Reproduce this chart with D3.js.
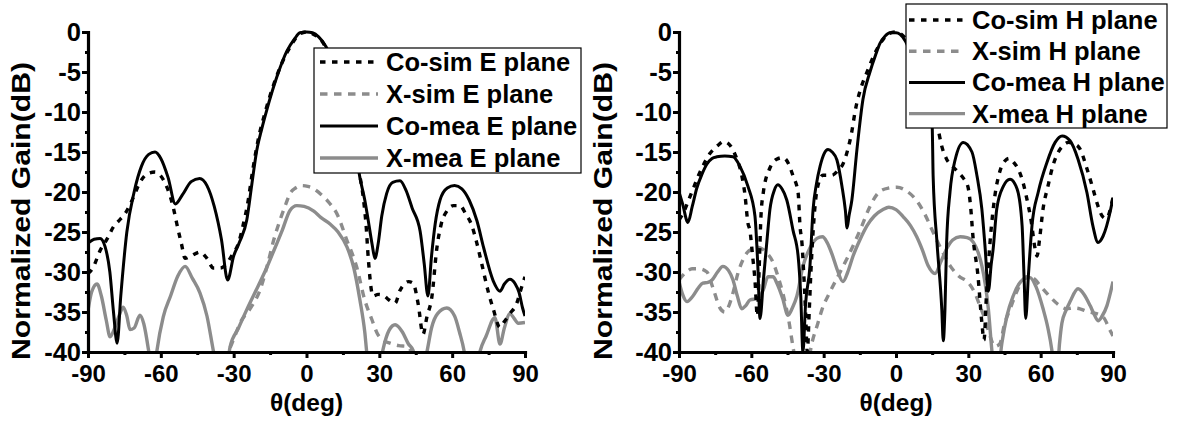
<!DOCTYPE html>
<html>
<head>
<meta charset="utf-8">
<script src="https://cdn.jsdelivr.net/npm/d3@7"></script>
<style>
  html, body { margin: 0; padding: 0; background: #fff; }
  svg { display: block; }
  text { font-family: "Liberation Sans", Arial, Helvetica, sans-serif; font-weight: bold; fill: #000; }
</style>
</head>
<body>
<svg id="chart" width="1178" height="425"></svg>
<script>
// ---- axis ticks ----
const thetaTicks = [-90, -60, -30, 0, 30, 60, 90];
const thetaMinor = [-75, -45, -15, 15, 45, 75];
const gainTicks = [0, -5, -10, -15, -20, -25, -30, -35, -40];
const gainMinor = [-2.5, -7.5, -12.5, -17.5, -22.5, -27.5, -32.5, -37.5];

// ---- E plane ----
const eLegend = ["Co-sim E plane", "X-sim E plane", "Co-mea E plane", "X-mea E plane"];

const eCoSimTheta = [-90, -88, -85, -82, -79.6, -77, -74.7, -71.5, -68.6, -65.5, -62.4, -60, -57.5, -54.9, -53.4, -51.5, -50, -47.5, -43.9, -41, -38.4, -35.5, -32.8, -30.5, -28, -26, -24.5, -22, -20, -17, -14, -10, -6, -3, 0, 3, 6, 9, 12, 15, 18, 21, 23.5, 24.5, 25.5, 27.4, 29.5, 31.5, 34, 36.5, 38.5, 40, 42, 43.9, 46, 48, 49.6, 51.6, 53.7, 55.5, 57.8, 60.5, 63.2, 65.5, 68.1, 70, 72.2, 74.8, 77, 79.6, 81.5, 83.8, 86.5, 88.5, 90];
const eCoSimGain = [-30.2, -29.5, -27.3, -25.8, -24.4, -23.5, -22.7, -20.8, -18.8, -17.7, -17.5, -18, -19.4, -21.9, -24, -26.5, -28.3, -28, -27.5, -28.3, -29.5, -29.5, -28.9, -27.8, -26.4, -24, -21.9, -17, -13.6, -10, -7, -3.8, -1.5, -0.3, 0, -0.3, -1, -2.6, -4.8, -8, -12, -16.5, -21, -24, -28.5, -33, -32.8, -32.9, -33.5, -33.9, -32.3, -31.6, -31.2, -31.4, -34, -37.8, -35.6, -33.2, -27, -24, -22.4, -21.7, -21.7, -22.7, -24.2, -26.2, -29, -32.4, -34.7, -36.9, -36.2, -35.2, -34, -32, -30.6];

const eXSimTheta = [-34, -31.5, -29.5, -27.4, -23, -19.2, -16, -13.5, -10.9, -8.5, -6.8, -4.5, -2, 0.5, 3, 6, 9.5, 12.5, 16.6, 20.7, 24, 27, 29, 31.5, 34.4, 38, 41.4, 44];
const eXSimGain = [-41, -39.5, -38, -36.4, -34.5, -32.3, -29, -26, -23.5, -21.5, -20.2, -19.5, -19.2, -19.3, -19.6, -20.3, -21.4, -22.7, -26, -29.4, -33.5, -36, -37.6, -38.5, -38.9, -39.2, -39.3, -40.5];

const eCoMeaTheta = [-90, -87.5, -85, -83, -81, -79.5, -78, -76.5, -74, -71, -68, -65, -62.4, -60, -57, -54, -51, -47.5, -44, -41, -38, -35, -32.5, -30, -27.5, -24.6, -22.5, -20.5, -18.5, -16.4, -12.3, -8.1, -5, -2.7, 0, 2.5, 5, 8, 11, 14, 17, 20, 22, 24, 25.4, 27, 28.2, 29.5, 31, 33, 35.5, 38.5, 41, 43.5, 46.8, 48.5, 50, 51.5, 53, 55, 58, 61, 64, 67, 70.2, 73, 76.9, 79.7, 81.5, 83.8, 86, 87.5, 89, 90];
const eCoMeaGain = [-26.4, -25.9, -25.8, -26.8, -30, -35, -38.9, -33, -25, -20, -16.8, -15.3, -15, -15.8, -18.2, -21.5, -20.3, -18.7, -18.3, -19.2, -21.8, -26, -31, -28, -26.2, -23.5, -19, -14.8, -12.2, -9.8, -5.7, -2.4, -0.9, -0.1, 0, -0.1, -0.6, -1.8, -3.7, -6.5, -10.3, -14.5, -18.2, -21, -23.5, -26.5, -28.3, -26.5, -23, -20.2, -18.8, -18.6, -19.8, -22, -24.9, -29, -33, -28, -24, -21, -19.5, -19.2, -19.6, -21, -23.6, -27, -31.1, -32.4, -31.5, -30.9, -31.5, -32.5, -34.5, -35.5];

const eXMeaTheta = [-90, -88.5, -86.3, -84.5, -82.5, -80.9, -79, -77, -75.5, -74, -72.7, -71, -68.6, -67, -65.1, -64, -62.5, -61.6, -59, -56, -53, -50, -47, -43.9, -41, -38.4, -37, -33, -31.5, -28, -24.6, -20, -16.3, -13, -10, -6.8, -4, -1, 3, 6, 9.7, 13, 16.7, 19.5, 22, 24, 25, 26.5, 30, 31.5, 34, 36.5, 39.5, 42, 43.9, 45, 48, 49.6, 51.5, 54, 57.8, 61, 63, 65, 66, 70, 71.4, 74, 77.6, 79.7, 81.5, 83.8, 85.5, 87.2, 90];
const eXMeaGain = [-34.8, -32.5, -31.5, -33, -36, -38.1, -37, -35.3, -34.4, -35.5, -37.2, -37, -35.4, -36.5, -39.7, -42, -42, -39.8, -35.6, -33, -30.5, -29.3, -30.8, -32.6, -35.5, -39.8, -42, -42, -39.4, -37, -34.7, -31.8, -29.4, -27, -24.8, -22.3, -21.7, -21.8, -22.4, -23.2, -24, -25, -26.9, -29.5, -33.5, -37.5, -40.5, -42, -42, -39.7, -37.3, -36.6, -37.5, -39, -39.8, -42, -42, -40, -37, -35.2, -34.5, -35.5, -37.5, -40, -42, -42, -40, -38, -35.7, -39, -37, -35.2, -35.8, -36.4, -36.3];

// ---- H plane ----
const hLegend = ["Co-sim H plane", "X-sim H plane", "Co-mea H plane", "X-mea H plane"];

const hCoSimTheta = [-90, -88, -86, -84, -82, -80.5, -77.2, -74, -71.5, -69, -66.5, -64, -62.7, -61.4, -60.6, -59.5, -58.5, -57.5, -56.8, -56, -55, -52.3, -49.5, -46.9, -44.5, -42.7, -40.6, -39.8, -39, -38.3, -37.5, -36.8, -36, -35.3, -34.5, -33.5, -32.8, -30.3, -28, -26.6, -24, -22, -20, -18.3, -17, -14, -12, -9, -6, -3, 0, 3, 6, 9, 12, 15, 17.4, 19, 21, 23.5, 25.7, 28, 29.8, 31, 31.9, 34, 35.6, 36.5, 37.5, 39, 41, 43, 45.2, 47, 48.8, 50.6, 52.5, 54.3, 56, 57.7, 58.5, 59.5, 61, 63, 65.1, 67, 69.3, 71.5, 74, 76.3, 79.2, 81.7, 83.5, 85.5, 87, 88, 89, 90];
const hCoSimGain = [-23.5, -22.5, -21, -19.5, -18, -17, -15.2, -14.2, -13.7, -14.1, -15.5, -17.9, -20.2, -23.9, -24.8, -27.9, -31, -35.5, -30, -23, -20, -17, -15.9, -15.7, -16.5, -18, -20.1, -24.3, -26.4, -30, -35, -40, -35, -30, -25.5, -21.5, -19.8, -17.9, -17.9, -17.9, -17.3, -16.5, -14.7, -12.4, -10, -6.5, -5, -2.8, -1.2, -0.2, 0, -0.5, -1.8, -4, -7, -10, -12.1, -14.3, -15.9, -16.8, -17.5, -18.3, -19.3, -22, -25.5, -30.5, -36.3, -38.5, -33, -26.3, -20.5, -17.5, -16.1, -15.8, -16.3, -17.1, -18.6, -20.9, -23.5, -27.1, -28, -26, -22.1, -19.3, -16.7, -15.2, -14.2, -13.8, -14, -14.6, -17.1, -19.6, -21.5, -23, -23.3, -23, -22, -20.7];

const hXSimTheta = [-90, -87, -84.6, -81.5, -78.4, -75.9, -73, -71, -69.7, -67.5, -65.6, -63.5, -61.8, -59.5, -57.3, -54, -51, -49, -46.9, -44.5, -42.7, -41, -37, -34.9, -32.5, -30.7, -27.4, -24, -20.3, -17, -14.1, -10.8, -6.6, -3, 0.4, 4, 9.1, 12, 14.9, 18.5, 22.4, 26, 29.9, 32.5, 34.9, 37, 39, 41, 43, 45, 47.5, 50, 52, 54.3, 57, 60, 63.9, 67, 70.9, 73.5, 76.3, 79, 81.7, 84, 85.9, 88.8, 90];
const hXSimGain = [-31, -30, -29.6, -29.6, -30, -32, -34.5, -35, -34.5, -32.5, -30.2, -28.5, -27.6, -27.1, -26.9, -27.5, -28.8, -30.5, -32.7, -36, -39.4, -42, -42, -38.9, -36.5, -34.7, -32.5, -30.5, -28.3, -26.2, -24.2, -21.8, -19.9, -19.5, -19.4, -19.8, -21.3, -22.8, -24.7, -27, -29.2, -30.5, -31.3, -32.5, -34.3, -36, -38, -39.3, -39, -36.5, -34.5, -32.5, -31.3, -30.6, -30.8, -31.8, -33.1, -34, -34.6, -34.5, -34.6, -34.9, -35.1, -35.3, -35.6, -37.3, -38];

const hCoMeaTheta = [-90, -88.5, -86.3, -84.5, -82.6, -80.5, -78.4, -76.3, -74.3, -71, -67.6, -64.7, -61.4, -58.5, -57.3, -56.4, -55, -53.5, -52.3, -50.5, -49, -47.3, -45.3, -42.7, -40.6, -39.5, -38.6, -37.5, -35.7, -34.4, -33, -31.5, -29.8, -28.2, -26.5, -24.5, -22.4, -21, -20.3, -19.5, -18.3, -16.2, -13.7, -10.8, -8.5, -6.6, -4.5, -2.5, 0, 1.7, 4, 7, 10, 12.5, 15, 15.4, 17, 19, 19.6, 20.3, 21, 22.4, 24.5, 27.9, 31.5, 33.6, 35.6, 37, 38.3, 39.5, 40.3, 41.8, 44.5, 47.3, 50.2, 52.3, 53.1, 53.8, 54.9, 56.4, 59, 62.6, 66, 68.9, 72.2, 75.5, 79.2, 81.7, 83.8, 85.9, 88.8, 90];
const hCoMeaGain = [-20, -21.5, -23.8, -21.8, -19.5, -17.8, -16.5, -15.8, -15.6, -15.5, -15.6, -16.8, -19.3, -23, -29.3, -35.8, -31, -26, -22.2, -19.8, -19.1, -19.6, -21, -24.8, -28, -33, -40, -34, -29.3, -22.2, -19, -16.8, -15.2, -14.7, -15, -16, -19.3, -22.3, -24.5, -23, -21, -14.7, -8.4, -5, -2.9, -1.4, -0.5, -0.1, -0.1, -0.3, -1.2, -3.5, -6.5, -9.5, -11.8, -18, -26.3, -34.7, -38.6, -34.7, -26.3, -20, -16, -13.8, -15, -18, -22.1, -27.1, -32.4, -29, -27.1, -22.1, -19.3, -18.4, -19.6, -24.2, -30.5, -35.8, -30.5, -24.2, -20, -16.3, -13.8, -13, -13.6, -15.9, -20.1, -24.3, -26.3, -25.5, -22.5, -20.7];

const hXMeaTheta = [-90, -88.5, -86.7, -84.2, -82, -80.1, -78, -76.3, -74, -71.8, -69.5, -67.6, -65.8, -64, -62.3, -60.6, -57.3, -55, -53.1, -51, -49.4, -47, -44.8, -43, -41.1, -38.6, -35.7, -32.8, -30.5, -28.6, -26.5, -24.5, -22, -20, -17.8, -15, -12, -9, -5.4, -3, 0, 3, 6, 8.6, 11, 13.3, 16.2, 18.5, 21, 23.5, 26.6, 29.5, 32.1, 34, 35.6, 37, 38.3, 39.7, 40.5, 42.5, 43.9, 46, 48.6, 51, 53.5, 55.6, 58, 61, 63, 64.6, 65.5, 67, 67.8, 68.8, 70.5, 72.2, 75.5, 78, 80.5, 82.2, 83.8, 85.5, 87.5, 89, 90];
const hXMeaGain = [-31.2, -32.8, -33.7, -33, -32, -31.4, -31.3, -31, -30, -29.3, -29.8, -31, -33, -34.6, -34.2, -33.5, -33.3, -32.2, -30.6, -30.6, -31.4, -33.3, -35.4, -34.5, -33, -29.3, -27, -25.8, -25.6, -26.3, -27.8, -29.6, -31.2, -30, -28, -26, -24.2, -23, -22.2, -21.9, -22.2, -23.1, -24.2, -25.6, -27.3, -29.2, -30.2, -28.8, -27.1, -26, -25.6, -25.7, -26.3, -27.5, -29.2, -31.5, -34.6, -39.6, -42, -42, -38.9, -35.5, -33, -31.5, -30.8, -30.7, -31.8, -34.6, -37, -39.7, -42, -42, -39, -36.4, -34.8, -33.7, -32.1, -32.8, -34.2, -35.3, -36.1, -35.5, -34.2, -32.5, -31.2];

// ---- line styles ----
const GREY = "#8c8c8c";
const styleCoSim = { stroke: "#000", width: 3.4, dash: "5.5,6.5" };
const styleXSim  = { stroke: GREY,   width: 3.4, dash: "7.5,6.5" };
const styleCoMea = { stroke: "#000", width: 3,   dash: null };
const styleXMea  = { stroke: GREY,   width: 3.4, dash: null };

const svg = d3.select("#chart");

function drawPanel(p) {
  const x = d3.scaleLinear().domain([-90, 90]).range([p.left, p.right]);
  const y = d3.scaleLinear().domain([-40, 0]).range([p.bottom, p.top]);
  const g = svg.append("g");

  const clipId = "clip-" + p.id;
  g.append("clipPath").attr("id", clipId)
    .append("rect")
    .attr("x", p.left).attr("y", p.top - 6)
    .attr("width", p.right - p.left).attr("height", p.bottom - p.top + 6);

  const line = d3.line()
    .x(d => x(d[0]))
    .y(d => y(d[1]))
    .curve(d3.curveMonotoneX);

  // drawing order: cross-pol first, co-pol on top
  const drawOrder = [3, 1, 2, 0];
  const curves = g.append("g").attr("clip-path", `url(#${clipId})`);
  drawOrder.forEach(i => {
    const s = p.series[i];
    curves.append("path")
      .attr("d", line(d3.zip(s.theta, s.gain)))
      .attr("fill", "none")
      .attr("stroke", s.style.stroke)
      .attr("stroke-width", s.style.width)
      .attr("stroke-dasharray", s.style.dash)
      .attr("stroke-linejoin", "round");
  });

  // axes
  const fmt = d => String(d);
  const xAxis = g.append("g").attr("transform", `translate(0,${p.bottom})`)
    .call(d3.axisBottom(x).tickValues(thetaTicks).tickSize(6).tickSizeOuter(0).tickPadding(7).tickFormat(fmt));
  const xMinor = g.append("g").attr("transform", `translate(0,${p.bottom})`)
    .call(d3.axisBottom(x).tickValues(thetaMinor).tickSize(3).tickSizeOuter(0).tickFormat(""));
  const yAxis = g.append("g").attr("transform", `translate(${p.left},0)`)
    .call(d3.axisLeft(y).tickValues(gainTicks).tickSize(6).tickSizeOuter(0).tickPadding(1).tickFormat(fmt));
  const yMinor = g.append("g").attr("transform", `translate(${p.left},0)`)
    .call(d3.axisLeft(y).tickValues(gainMinor).tickSize(3).tickSizeOuter(0).tickFormat(""));

  [xMinor, yMinor].forEach(a => a.select(".domain").remove());
  [xAxis, yAxis, xMinor, yMinor].forEach(a => {
    a.attr("font-family", null).attr("font-size", null);
    a.selectAll("line").attr("stroke", "#000").attr("stroke-width", 3);
    a.selectAll(".domain").attr("stroke", "#000").attr("stroke-width", 3.2).attr("stroke-linecap", "square");
    a.selectAll("text").attr("fill", "#000");
  });
  xAxis.selectAll("text").style("font-size", "24px");
  yAxis.selectAll("text").style("font-size", "25.5px");

  // axis titles
  g.append("text")
    .attr("x", (p.left + p.right) / 2).attr("y", 411)
    .attr("text-anchor", "middle")
    .style("font-size", "24.5px")
    .text("θ(deg)");
  g.append("text")
    .attr("transform", `translate(${p.titleX},211) rotate(-90)`)
    .attr("text-anchor", "middle")
    .style("font-size", "26px")
    .attr("textLength", 298).attr("lengthAdjust", "spacingAndGlyphs")
    .text("Normalized Gain(dB)");

  // legend
  const L = p.legend;
  const lg = g.append("g");
  lg.append("rect")
    .attr("x", L.x).attr("y", L.y).attr("width", L.w).attr("height", L.h)
    .attr("fill", "#fff").attr("stroke", "#000").attr("stroke-width", 1.2);
  p.series.forEach((s, i) => {
    const cy = L.y + L.row0 + i * L.step;
    lg.append("line")
      .attr("x1", L.x + L.line0).attr("x2", L.x + L.line1)
      .attr("y1", cy).attr("y2", cy)
      .attr("stroke", s.style.stroke)
      .attr("stroke-width", s.style.width)
      .attr("stroke-dasharray", s.style.dash);
    lg.append("text")
      .attr("x", L.x + L.textX).attr("y", cy + 9)
      .style("font-size", "25.5px")
      .text(s.label);
  });
}

drawPanel({
  id: "e", left: 88, right: 525, top: 32, bottom: 352, titleX: 30,
  legend: { x: 314, y: 48, w: 267, h: 125, row0: 14, step: 32, line0: 6, line1: 64, textX: 72 },
  series: [
    { label: eLegend[0], theta: eCoSimTheta, gain: eCoSimGain, style: styleCoSim },
    { label: eLegend[1], theta: eXSimTheta,  gain: eXSimGain,  style: styleXSim },
    { label: eLegend[2], theta: eCoMeaTheta, gain: eCoMeaGain, style: styleCoMea },
    { label: eLegend[3], theta: eXMeaTheta,  gain: eXMeaGain,  style: styleXMea }
  ]
});

drawPanel({
  id: "h", left: 679, right: 1113, top: 32, bottom: 352, titleX: 612,
  legend: { x: 906, y: 4, w: 261, h: 124, row0: 16, step: 31.2, line0: 3, line1: 59, textX: 66 },
  series: [
    { label: hLegend[0], theta: hCoSimTheta, gain: hCoSimGain, style: styleCoSim },
    { label: hLegend[1], theta: hXSimTheta,  gain: hXSimGain,  style: styleXSim },
    { label: hLegend[2], theta: hCoMeaTheta, gain: hCoMeaGain, style: styleCoMea },
    { label: hLegend[3], theta: hXMeaTheta,  gain: hXMeaGain,  style: styleXMea }
  ]
});
</script>
</body>
</html>
